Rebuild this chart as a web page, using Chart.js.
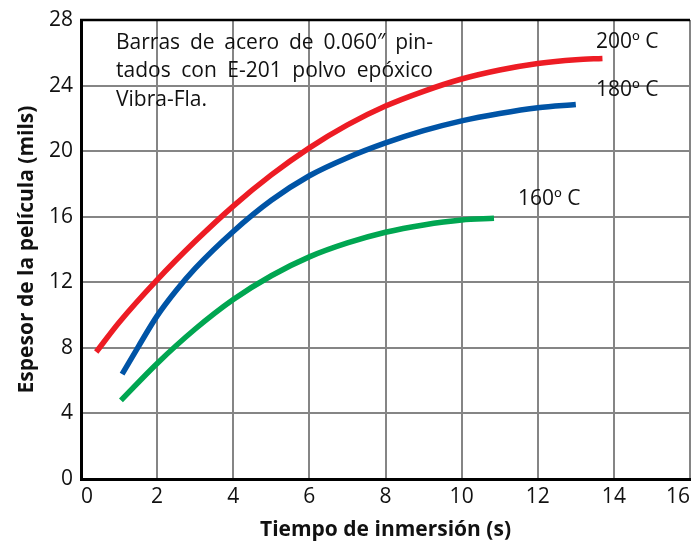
<!DOCTYPE html>
<html>
<head>
<meta charset="utf-8">
<script src="https://cdn.jsdelivr.net/npm/chart.js@4"></script>
<style>
  html, body { margin: 0; padding: 0; background: #fff; }
  #wrap { width: 691px; height: 545px; }
</style>
</head>
<body>
<div id="wrap"><canvas id="chart" width="691" height="545"></canvas></div>
<script>
// data
const red200X   = [0.4, 1, 2, 3, 4, 5, 6, 7, 8, 9, 10, 11, 12, 13, 13.7];
const red200Y   = [7.75, 9.55, 12.15, 14.5, 16.65, 18.55, 20.2, 21.6, 22.75, 23.65, 24.4, 24.95, 25.35, 25.58, 25.65];
const blue180X  = [1.08, 1.5, 2, 2.5, 3, 4, 5, 6, 7, 8, 9, 10, 11, 12, 13];
const blue180Y  = [6.4, 8.05, 9.95, 11.5, 12.85, 15.1, 17.0, 18.5, 19.6, 20.5, 21.25, 21.85, 22.3, 22.65, 22.85];
const green160X = [1.05, 2, 3, 4, 5, 6, 7, 8, 9, 10, 10.85];
const green160Y = [4.8, 7.05, 9.15, 10.95, 12.4, 13.55, 14.4, 15.05, 15.5, 15.8, 15.9];

const seriesLabels = ['200º C', '180º C', '160º C'];
const labelPos = [[14.35, 26.65], [14.35, 23.7], [12.3, 17.1]];
const noteLines = ['Barras de acero de 0.060″ pin-', 'tados con E-201 polvo epóxico', 'Vibra-Fla.'];

const FONT = '"Open Sans", "Noto Sans", sans-serif';

const pts = (xs, ys) => xs.map((x, i) => ({x: x, y: ys[i]}));

// labels, note box and top border
const extras = {
  id: 'extras',
  afterDraw(chart) {
    const ctx = chart.ctx, xs = chart.scales.x, ys = chart.scales.y, a = chart.chartArea;
    ctx.save();
    // top border
    ctx.strokeStyle = '#000';
    ctx.lineWidth = 2.5;
    ctx.beginPath();
    ctx.moveTo(a.left - 1, a.top);
    ctx.lineTo(a.right, a.top);
    ctx.stroke();

    ctx.fillStyle = '#111';
    ctx.font = '21px ' + FONT;
    ctx.textBaseline = 'middle';
    ctx.textAlign = 'center';
    seriesLabels.forEach((t, i) => {
      ctx.fillText(t, xs.getPixelForValue(labelPos[i][0]), ys.getPixelForValue(labelPos[i][1]));
    });

    // justified note
    ctx.textAlign = 'left';
    const x0 = 116, x1 = 433;
    noteLines.forEach((line, i) => {
      const y = 43 + i * 28.5;
      const words = line.split(' ');
      if (i === noteLines.length - 1) { ctx.fillText(line, x0, y); return; }
      const total = words.reduce((s, w) => s + ctx.measureText(w).width, 0);
      const gap = (x1 - x0 - total) / (words.length - 1);
      let x = x0;
      words.forEach(w => {
        ctx.fillText(w, x, y);
        x += ctx.measureText(w).width + gap;
      });
    });
    ctx.restore();
  }
};

const lineDs = (label, data, color) => ({
  label: label,
  data: data,
  borderColor: color,
  backgroundColor: color,
  borderWidth: 5.5,
  borderCapStyle: 'butt',
  pointRadius: 0,
  fill: false,
  cubicInterpolationMode: 'monotone'
});

new Chart(document.getElementById('chart'), {
  type: 'line',
  data: {
    datasets: [
      lineDs(seriesLabels[0], pts(red200X, red200Y), '#ED1C24'),
      lineDs(seriesLabels[1], pts(blue180X, blue180Y), '#0054A6'),
      lineDs(seriesLabels[2], pts(green160X, green160Y), '#00A651')
    ]
  },
  options: {
    responsive: false,
    animation: false,
    layout: { padding: { top: 20, right: 1, left: 0, bottom: 0 } },
    plugins: {
      legend: { display: false },
      tooltip: { enabled: false }
    },
    scales: {
      x: {
        type: 'linear',
        min: 0, max: 16,
        ticks: { stepSize: 2, align: 'inner', color: '#111', font: { size: 21, family: FONT }, padding: 5 },
        grid: { color: '#858585', lineWidth: 2, drawTicks: false },
        border: { color: '#000', width: 3 },
        title: {
          display: true,
          text: 'Tiempo de inmersión (s)',
          color: '#111',
          font: { size: 21, weight: 'bold', family: FONT },
          padding: { top: 0, bottom: 2 }
        },
        afterFit(scale) { scale.height = 66; scale.paddingRight = 0; scale.paddingLeft = 0; }
      },
      y: {
        min: 0, max: 28,
        ticks: { stepSize: 4, color: '#111', font: { size: 21, family: FONT }, padding: 8 },
        grid: { color: '#858585', lineWidth: 2, drawTicks: false },
        border: { color: '#000', width: 3 },
        title: {
          display: true,
          text: 'Espesor de la película (mils)',
          color: '#111',
          font: { size: 21, weight: 'bold', family: FONT },
          padding: { top: 14, bottom: 0 }
        },
        afterFit(scale) { scale.width = 81; scale.paddingTop = 0; scale.paddingBottom = 0; }
      }
    }
  },
  plugins: [extras]
});
</script>
</body>
</html>
